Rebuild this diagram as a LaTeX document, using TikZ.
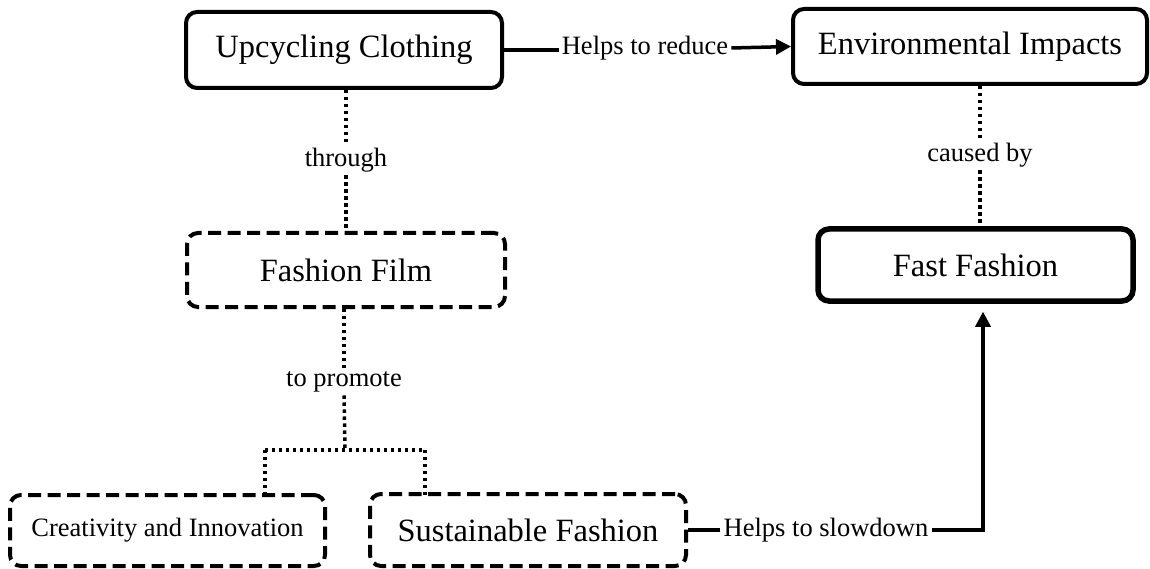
\documentclass[tikz,border=0pt]{standalone}
\usepackage{fontspec}
\setmainfont{Liberation Serif}
\usetikzlibrary{arrows.meta}
\begin{document}
\begin{tikzpicture}[x=1pt,y=-1pt,
  box/.style={draw=black,line width=4pt,rounded corners=11pt,align=center,
    font=\fontsize{32.5}{38}\selectfont,inner sep=0pt},
  dbox/.style={box,dash pattern=on 13pt off 6.5pt},
  thick box/.style={box,line width=5.5pt},
  lbl/.style={font=\fontsize{26.5}{30}\selectfont,inner sep=3pt,fill=white},
  dotline/.style={line width=3.5pt,dash pattern=on 3.4pt off 3.6pt},
  solid line/.style={line width=3.5pt},
  arr/.style={solid line,-{Triangle[length=15pt,width=15pt]}}
]
\useasboundingbox (0,0) rectangle (1150,569);
% nodes
\node[box,minimum width=316pt,minimum height=76pt] (up) at (344,50) {Upcycling Clothing};
\node[box,minimum width=354pt,minimum height=75pt] (env) at (970,46.5) {Environmental Impacts};
\node[dbox,minimum width=318pt,minimum height=74pt] (film) at (346,270) {Fashion Film};
\node[thick box,minimum width=315pt,minimum height=72pt] (ff) at (975.5,265) {Fast Fashion};
\node[dbox,minimum width=315pt,minimum height=71pt,font=\fontsize{26.5}{30}\selectfont] (cr) at (167.5,530.5) {Creativity and Innovation};
\node[dbox,minimum width=316pt,minimum height=72pt] (sf) at (528,530) {Sustainable Fashion};
% labels
\node[lbl] (l1) at (645,48) {Helps to reduce};
\node[lbl] (l2) at (826,530) {Helps to slowdown};
\node[lbl] (lt) at (346,160) {through};
\node[lbl] (lp) at (344,382) {to promote};
\node[lbl] (lc) at (980,155) {caused by};
\coordinate (j) at (345,450);
\coordinate (jl) at (265,450);
\coordinate (jr) at (425,450);
\coordinate (c1) at (983,530);
% connectors
\draw[solid line] (up.east) -- (up.east -| l1.west);
\draw[arr] (l1.east) -- (env.west);
\draw[dotline] (up.south -| lt) -- (lt.north);
\draw[dotline] (lt.south) -- (film.north -| lt);
\draw[dotline] (film.south -| lp) -- (lp.north);
\draw[dotline] (lp.south) -- (j);
\draw[dotline] (jl) -- (jr);
\draw[dotline] (jl) -- ([yshift=-5pt]jl |- cr.north);
\draw[dotline] (jr) -- ([yshift=-5pt]jr |- sf.north);
\draw[dotline] (env.south -| lc) -- (lc.north);
\draw[dotline] (lc.south) -- (ff.north -| lc);
\draw[solid line] (sf.east) -- (l2.west);
\draw[arr,shorten >=8pt] (l2.east) -- (c1) -- (c1 |- ff.south);
\end{tikzpicture}
\end{document}
